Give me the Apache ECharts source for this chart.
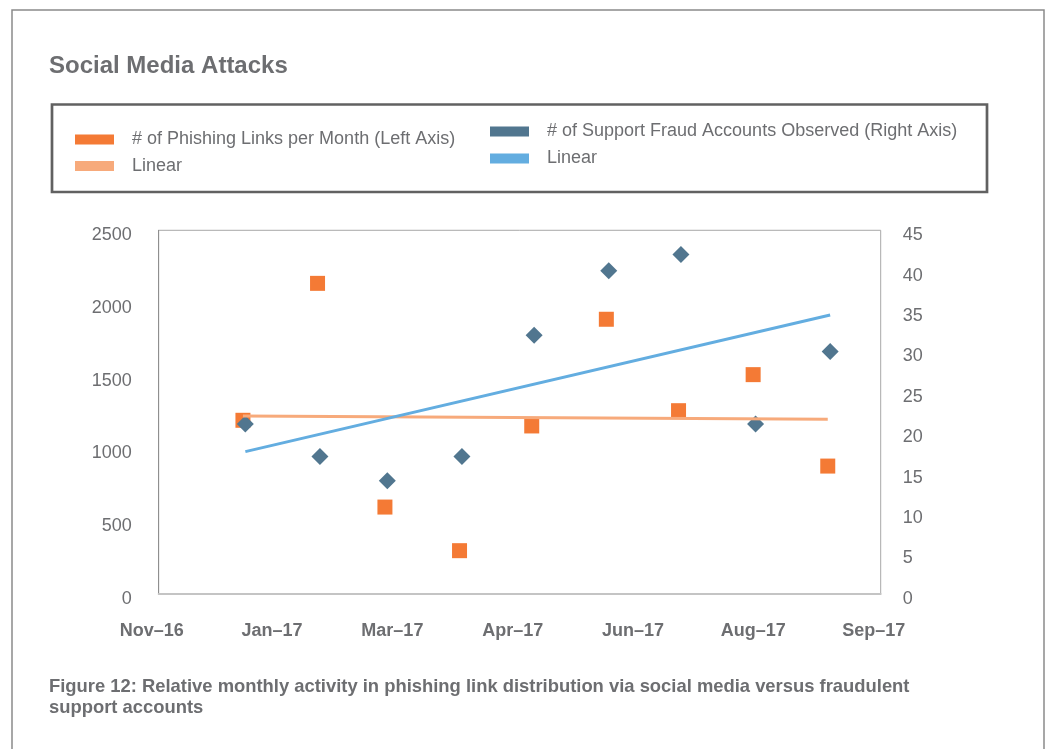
<!DOCTYPE html>
<html><head><meta charset="utf-8">
<script src="https://cdn.jsdelivr.net/npm/echarts@6/dist/echarts.min.js"></script>
<style>html,body{margin:0;padding:0;background:#fff}#c{width:1048px;height:749px}</style>
</head><body><div id="c"></div>
<script>
// ---- data ----
const phishDates = ['2016-12-31','2017-01-31','2017-02-28','2017-03-31','2017-04-30','2017-05-31','2017-06-30','2017-07-31','2017-08-31'];
const phishLinks = [1193, 2135, 596, 296, 1154, 1888, 1259, 1507, 878];
const fraudDates = ['2017-01-01','2017-02-01','2017-03-01','2017-04-01','2017-05-01','2017-06-01','2017-07-01','2017-08-01','2017-09-01'];
const fraudAccounts = [21, 17, 14, 17, 32, 40, 42, 21, 30];
const monthNames = ['Jan','Feb','Mar','Apr','May','Jun','Jul','Aug','Sep','Oct','Nov','Dec'];
const xAxisRange = {min: 42700, max: 43000, interval: 50}; // Excel day serials (Nov–16 .. Sep–17)
const leftAxisRange = {min: 0, max: 2500, interval: 500};
const rightAxisRange = {min: 0, max: 45, interval: 5};
const legendNames = ['# of Phishing Links per Month (Left Axis)', 'Linear', '# of Support Fraud Accounts Observed (Right Axis)', 'Linear'];
const titleText = 'Social Media Attacks';
const captionText = 'Figure 12: Relative monthly activity in phishing link distribution via social media versus fraudulent\nsupport accounts';

// ---- helpers ----
const EPOCH = Date.UTC(1899, 11, 30);
const toSerial = s => (Date.parse(s + 'T00:00:00Z') - EPOCH) / 864e5;
const fmtSerial = v => { const d = new Date(EPOCH + v * 864e5); return monthNames[d.getUTCMonth()] + '–' + String(d.getUTCFullYear()).slice(2); };
function linearFit(xs, ys) {
  const n = xs.length, mx = xs.reduce((a,b)=>a+b,0)/n, my = ys.reduce((a,b)=>a+b,0)/n;
  let sxy = 0, sxx = 0;
  for (let i = 0; i < n; i++) { sxy += (xs[i]-mx)*(ys[i]-my); sxx += (xs[i]-mx)**2; }
  const b = sxy/sxx, a = my - b*mx;
  const x0 = Math.min(...xs), x1 = Math.max(...xs);
  return [[x0, a + b*x0], [x1, a + b*x1]];
}
const phishX = phishDates.map(toSerial);
const fraudX = fraudDates.map(toSerial);
const phishPts = phishX.map((x,i)=>[x, phishLinks[i]]);
const fraudPts = fraudX.map((x,i)=>[x, fraudAccounts[i]]);

const C_ORANGE = '#f47a35', C_ORANGE_L = '#f7aa7b', C_BLUE = '#51768f', C_BLUE_L = '#63ade0';
const GRAY = '#6d6e71';
const FONT = '"Liberation Sans", Arial, Helvetica, sans-serif';

const chart = echarts.init(document.getElementById('c'), null, {renderer: 'canvas'});
function legendAt(name, left, top, disp) {
  return {
    data: [name], left: left, top: top, padding: 0, icon: 'rect', itemWidth: 39, itemHeight: 10,
    selectedMode: false, formatter: () => disp,
    textStyle: {color: GRAY, fontSize: 18, fontFamily: FONT, lineHeight: 20, padding: [0,0,0,13]}
  };
}
const yLabel = (margin) => ({
  margin: margin,
  formatter: v => '{t|' + v + '}',
  rich: {t: {color: GRAY, fontSize: 18, fontFamily: FONT, lineHeight: 18, padding: [10,0,0,0]}}
});
chart.setOption({
  animation: false,
  backgroundColor: '#fff',
  title: [
    {text: titleText, left: 49, top: 54, padding: 0,
     textStyle: {color: GRAY, fontSize: 24, fontWeight: 'bold', fontFamily: FONT, lineHeight: 24}},
    {text: captionText, left: 49, top: 676, padding: 0,
     textStyle: {color: GRAY, fontSize: 18.4, fontWeight: 'bold', fontFamily: FONT, lineHeight: 21}}
  ],
  graphic: [
    {type: 'rect', shape: {x: 12, y: 10, width: 1032, height: 760}, style: {fill: 'none', stroke: '#8a8a8a', lineWidth: 1.5}, silent: true},
    {type: 'rect', shape: {x: 52, y: 104.5, width: 935, height: 87.5}, style: {fill: 'none', stroke: '#616161', lineWidth: 2.7}, silent: true}
  ],
  legend: [
    legendAt('phish', 75, 129.5, legendNames[0]),
    legendAt('phishLinear', 75, 156, legendNames[1]),
    legendAt('fraud', 490, 121.5, legendNames[2]),
    legendAt('fraudLinear', 490, 148.5, legendNames[3])
  ],
  grid: {left: 158.7, right: 167.3, top: 230.3, bottom: 155.3, show: true, borderColor: '#a8a8a8', borderWidth: 1, backgroundColor: 'transparent'},
  xAxis: {
    type: 'value', min: xAxisRange.min, max: xAxisRange.max, interval: xAxisRange.interval,
    axisLine: {show: true, lineStyle: {color: '#c4c4c4', width: 2}},
    axisTick: {show: false}, splitLine: {show: false},
    axisLabel: {formatter: fmtSerial, color: GRAY, fontSize: 18, fontWeight: 'bold', fontFamily: FONT, margin: 28, padding: [0,14,0,0], showMinLabel: true, showMaxLabel: true}
  },
  yAxis: [
    {type: 'value', position: 'left', min: leftAxisRange.min, max: leftAxisRange.max, interval: leftAxisRange.interval,
     axisLine: {show: true, lineStyle: {color: '#8f8f8f', width: 1}}, axisTick: {show: false}, splitLine: {show: false},
     axisLabel: yLabel(27)},
    {type: 'value', position: 'right', min: rightAxisRange.min, max: rightAxisRange.max, interval: rightAxisRange.interval,
     axisLine: {show: false}, axisTick: {show: false}, splitLine: {show: false},
     axisLabel: yLabel(22)}
  ],
  series: [
    {name: 'phish', type: 'scatter', yAxisIndex: 0, data: phishPts, symbol: 'rect', symbolSize: 15, color: C_ORANGE, itemStyle: {color: C_ORANGE, opacity: 1}},
    {name: 'fraud', type: 'scatter', yAxisIndex: 1, data: fraudPts, symbol: 'diamond', symbolSize: 17, color: C_BLUE, itemStyle: {color: C_BLUE, opacity: 1}},
    {name: 'phishLinear', type: 'line', yAxisIndex: 0, data: linearFit(phishX, phishLinks), showSymbol: false, symbol: 'none', color: C_ORANGE_L, lineStyle: {color: C_ORANGE_L, width: 3}, itemStyle: {color: C_ORANGE_L}},
    {name: 'fraudLinear', type: 'line', yAxisIndex: 1, data: linearFit(fraudX, fraudAccounts), showSymbol: false, symbol: 'none', color: C_BLUE_L, lineStyle: {color: C_BLUE_L, width: 3}, itemStyle: {color: C_BLUE_L}}
  ]
});
</script></body></html>
